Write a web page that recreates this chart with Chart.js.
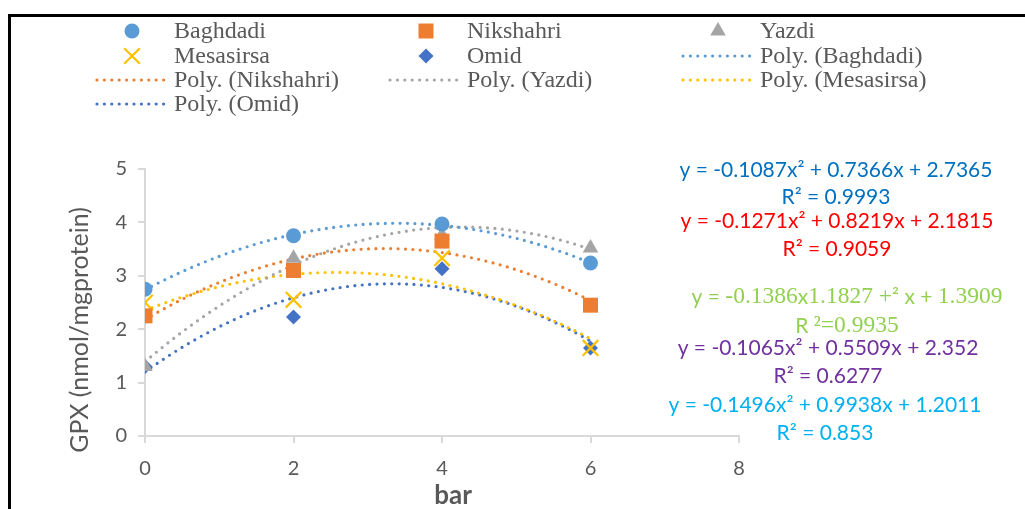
<!DOCTYPE html>
<html>
<head>
<meta charset="utf-8">
<script src="https://cdn.jsdelivr.net/npm/chart.js@4/dist/chart.umd.min.js"></script>
<style>
  body { margin: 0; background: #fff; }
  #wrap { width: 1025px; height: 509px; }
</style>
</head>
<body>
<div id="wrap"><canvas id="gpx-chart" width="1025" height="509"></canvas></div>
<script>
// measured pressures (bar) and GPX values
const xValues = [0, 2, 4, 6];
const baghdadi = [2.75, 3.75, 3.97, 3.24];
const nikshahri = [2.25, 3.1, 3.65, 2.45];
const yazdi = [1.3, 3.33, 3.76, 3.52];
const mesasirsa = [2.5, 2.55, 3.33, 1.65];
const omid = [1.3, 2.23, 3.13, 1.65];

// trendline coefficients as printed on the chart (a, b, c of ax^2 + bx + c)
const baghdadiFit = [-0.1087, 0.7366, 2.7365];
const nikshahriFit = [-0.1271, 0.8219, 2.1815];
const yazdiFit = [-0.1386, 1.1827, 1.3909];
const mesasirsaFit = [-0.1065, 0.5509, 2.352];
const omidFit = [-0.1496, 0.9938, 1.2011];

const xTicks = [0, 2, 4, 6, 8];
const yTicks = [0, 1, 2, 3, 4, 5];

const SANS = "Lato, 'Open Sans', sans-serif";
const SERIF = "'Liberation Serif', 'DejaVu Serif', serif";

function pts(ys) {
  return xValues.map((x, i) => ({ x: x, y: ys[i] }));
}

// points along the printed trendline between first and last x
function curve(c) {
  const out = [];
  for (let i = 0; i <= 60; i++) {
    const x = (xValues[xValues.length - 1] * i) / 60;
    out.push({ x: x, y: c[0] * x * x + c[1] * x + c[2] });
  }
  return out;
}

function markerSet(label, ys, color, style, radius) {
  return {
    label: label,
    data: pts(ys),
    pointStyle: style,
    pointRadius: radius,
    pointHoverRadius: radius,
    backgroundColor: color,
    borderColor: color,
    pointBorderWidth: style === "crossRot" ? 2.2 : 0,
    showLine: false,
    order: 0,
  };
}

function trendSet(label, c, color) {
  return {
    label: label,
    data: curve(c),
    showLine: true,
    pointRadius: 0,
    borderColor: color,
    backgroundColor: color,
    borderWidth: 3.2,
    borderDash: [0, 7.4],
    borderCapStyle: "round",
    fill: false,
    tension: 0,
    order: 1,
  };
}

const datasets = [
  markerSet("Baghdadi", baghdadi, "#5B9BD5", "circle", 7.5),
  markerSet("Nikshahri", nikshahri, "#ED7D31", "rect", 10.6),
  markerSet("Yazdi", yazdi, "#A5A5A5", "triangle", 9),
  markerSet("Mesasirsa", mesasirsa, "#FFC000", "crossRot", 11),
  markerSet("Omid", omid, "#4472C4", "rectRot", 7.5),
  trendSet("Poly. (Baghdadi)", baghdadiFit, "#5B9BD5"),
  trendSet("Poly. (Nikshahri)", nikshahriFit, "#ED7D31"),
  trendSet("Poly. (Yazdi)", yazdiFit, "#A5A5A5"),
  trendSet("Poly. (Mesasirsa)", mesasirsaFit, "#FFC000"),
  trendSet("Poly. (Omid)", omidFit, "#4472C4"),
];

// equation labels, each one a list of [text, font] pieces
const S = "21px " + SANS;
const T = "23.5px " + SERIF;
const equations = [
  { color: "#0070C0", x: 836, y: 170, parts: [["y = -0.1087x\u00B2 + 0.7366x + 2.7365", S]] },
  { color: "#0070C0", x: 836, y: 197, parts: [["R\u00B2 = 0.9993", S]] },
  { color: "#FF0000", x: 837, y: 221, parts: [["y = -0.1271x\u00B2 + 0.8219x + 2.1815", S]] },
  { color: "#FF0000", x: 837, y: 249, parts: [["R\u00B2 = 0.9059", S]] },
  { color: "#92D050", x: 847, y: 297, parts: [["y = ", S], ["-0.1386", T], ["x", S], ["1.1827 +", T], ["\u00B2", S], [" x + ", S], ["1.3909", T]] },
  { color: "#92D050", x: 847, y: 326, parts: [["R ", S], ["\u00B2=0.9935", T]] },
  { color: "#7030A0", x: 828, y: 348, parts: [["y = -0.1065x\u00B2 + 0.5509x + 2.352", S]] },
  { color: "#7030A0", x: 828, y: 376, parts: [["R\u00B2 = 0.6277", S]] },
  { color: "#00B0F0", x: 825, y: 405, parts: [["y = -0.1496x\u00B2 + 0.9938x + 1.2011", S]] },
  { color: "#00B0F0", x: 825, y: 433, parts: [["R\u00B2 = 0.853", S]] },
];

const frame = {
  id: "frame",
  beforeDraw(chart) {
    const ctx = chart.ctx;
    ctx.save();
    ctx.fillStyle = "#fff";
    ctx.fillRect(0, 0, chart.width, chart.height);
    ctx.fillStyle = "#000";
    ctx.fillRect(8, 14, chart.width - 8, 3);
    ctx.fillRect(8, 14, 3, chart.height - 14);
    ctx.restore();
  },
};

// three-column legend like the spreadsheet one
const legendCols = [
  { marker: 132, line: [97, 167], text: 174 },
  { marker: 426, line: [390, 460], text: 467 },
  { marker: 718, line: [683, 753], text: 760 },
];
const legendRows = [31, 56, 80, 104];

const gridLegend = {
  id: "gridLegend",
  afterDraw(chart) {
    const ctx = chart.ctx;
    ctx.save();
    chart.data.datasets.forEach((ds, i) => {
      const col = legendCols[i % 3];
      const y = legendRows[Math.floor(i / 3)];
      if (ds.showLine) {
        ctx.strokeStyle = ds.borderColor;
        ctx.lineWidth = ds.borderWidth;
        ctx.lineCap = "round";
        ctx.setLineDash(ds.borderDash);
        ctx.beginPath();
        ctx.moveTo(col.line[0], y);
        ctx.lineTo(col.line[1], y);
        ctx.stroke();
        ctx.setLineDash([]);
      } else {
        ctx.fillStyle = ds.backgroundColor;
        ctx.strokeStyle = ds.borderColor;
        ctx.lineWidth = ds.pointBorderWidth || 0;
        Chart.helpers.drawPoint(ctx, {
          pointStyle: ds.pointStyle,
          radius: ds.pointRadius,
          rotation: 0,
          borderWidth: ds.pointBorderWidth,
        }, col.marker, y);
      }
      ctx.fillStyle = "#595959";
      ctx.font = "24px " + SERIF;
      ctx.textBaseline = "middle";
      ctx.textAlign = "left";
      ctx.fillText(ds.label, col.text, y + 1);
    });
    ctx.restore();
  },
};

const labels = {
  id: "labels",
  afterDraw(chart) {
    const ctx = chart.ctx;
    ctx.save();
    ctx.textBaseline = "middle";
    ctx.textAlign = "left";
    equations.forEach((eq) => {
      let w = 0;
      eq.parts.forEach((p) => {
        ctx.font = p[1];
        w += ctx.measureText(p[0]).width;
      });
      let x = eq.x - w / 2;
      ctx.fillStyle = eq.color;
      eq.parts.forEach((p) => {
        ctx.font = p[1];
        ctx.fillText(p[0], x, eq.y);
        x += ctx.measureText(p[0]).width;
      });
    });

    // axis titles
    ctx.fillStyle = "#595959";
    ctx.textAlign = "center";
    ctx.font = "bold 26px " + SANS;
    ctx.fillText("bar", 453, 496);
    ctx.translate(80, 330);
    ctx.rotate(-Math.PI / 2);
    ctx.font = "25px " + SANS;
    ctx.fillText("GPX (nmol/mgprotein)", 0, 0);
    ctx.restore();
  },
};

const axisColor = "#D9D9D9";

new Chart(document.getElementById("gpx-chart"), {
  type: "scatter",
  data: { datasets: datasets },
  options: {
    responsive: false,
    animation: false,
    devicePixelRatio: 1,
    layout: { padding: { top: 169, right: 286, bottom: 0, left: 0 } },
    plugins: {
      legend: { display: false },
      tooltip: { enabled: false },
    },
    scales: {
      x: {
        type: "linear",
        min: xTicks[0],
        max: xTicks[xTicks.length - 1],
        afterFit: (s) => { s.height = 73; },
        afterBuildTicks: (s) => { s.ticks = xTicks.map((v) => ({ value: v })); },
        ticks: { color: "#595959", font: { family: SANS, size: 20 }, padding: 14 },
        grid: { drawOnChartArea: false, tickLength: 7, color: axisColor, lineWidth: 2 },
        border: { color: axisColor, width: 2 },
      },
      y: {
        type: "linear",
        min: yTicks[0],
        max: yTicks[yTicks.length - 1],
        afterFit: (s) => { s.width = 145; },
        afterBuildTicks: (s) => { s.ticks = yTicks.map((v) => ({ value: v })); },
        ticks: { color: "#595959", font: { family: SANS, size: 20 }, padding: 11 },
        grid: { drawOnChartArea: false, tickLength: 7, color: axisColor, lineWidth: 2 },
        border: { color: axisColor, width: 2 },
      },
    },
  },
  plugins: [frame, gridLegend, labels],
});
</script>
</body>
</html>
